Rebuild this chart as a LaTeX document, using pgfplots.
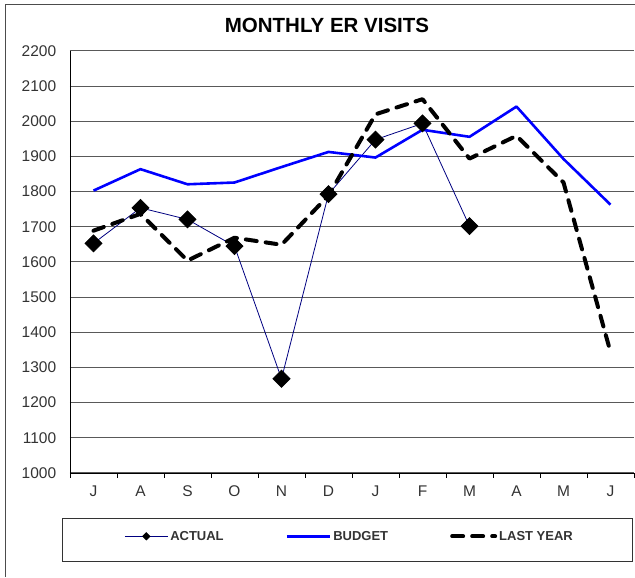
\documentclass[border=0pt]{standalone}
\usepackage{pgfplots}
\pgfplotsset{compat=1.18}
\usepackage{fontspec}
\setmainfont{Liberation Sans}
\definecolor{navy}{RGB}{0,0,128}
\definecolor{bblue}{RGB}{0,0,255}
\begin{document}
\begin{tikzpicture}[x=1pt,y=1pt]
\useasboundingbox (-70,-105) rectangle (565,473);
\begin{axis}[
  at={(0,0)}, anchor=south west,
  scale only axis, width=564pt, height=422pt,
  xmin=-0.5, xmax=11.5, ymin=1000, ymax=2200,
  axis x line=bottom, axis y line=left,
  axis line style={-, black, line width=0.8pt},
  xtick={0,...,11},
  xticklabels={J,A,S,O,N,D,J,F,M,A,M,J},
  minor xtick={-0.5,0.5,...,11.5},
  major x tick style={draw=none},
  minor x tick style={black, line width=0.8pt},
  minor tick length=5pt,
  tick align=outside,
  ytick={1000,1100,...,2200},
  ytick style={draw=none},
  ymajorgrids,
  major grid style={black!65, line width=1pt},
  tick label style={font=\fontsize{15.5}{16}\selectfont, text=black!80},
  xticklabel style={yshift=-5pt},
  yticklabel style={xshift=-6pt},
  /pgf/number format/assume math mode=true,
  /pgf/number format/1000 sep={},
  clip=false,
  legend columns=3,
  legend style={draw=none, fill=none, at={(axis cs:5.45,820)}, anchor=center,
    font=\fontsize{13}{14}\selectfont\bfseries,
    /tikz/every even column/.append style={column sep=60pt},
    text=black!80},
  legend image code/.code={\draw[#1] plot coordinates {(0pt,0pt) (43pt,0pt)};},
]
\addplot[navy, line width=0.8pt, mark=square*, mark size=6pt,
  mark options={fill=black, draw=black, rotate=45, solid},
  legend image code/.code={\draw[navy, line width=0.8pt] (0pt,0pt) -- (43pt,0pt);
    \fill[black] (21.5pt,0pt) +(0,3.6pt) -- +(3.6pt,0) -- +(0,-3.6pt) -- +(-3.6pt,0) -- cycle;}]
  coordinates {(0,1653) (1,1754) (2,1721) (3,1645) (4,1268) (5,1793) (6,1948) (7,1994) (8,1702)};
\addlegendentry{ACTUAL}
\addplot[bblue, line width=2.6pt, line join=round]
  coordinates {(0,1803) (1,1864) (2,1821) (3,1826) (4,1870) (5,1913) (6,1897) (7,1976) (8,1956) (9,2042) (10,1893) (11,1763)};
\addlegendentry{BUDGET}
\addplot[black, line width=4pt, dash pattern=on 11pt off 9pt, line cap=round, line join=round]
  coordinates {(0,1689) (1,1737) (2,1604) (3,1669) (4,1649) (5,1789) (6,2020) (7,2063) (8,1894) (9,1959) (10,1826) (11,1344)};
\addlegendentry{LAST YEAR}
\end{axis}
\node[font=\fontsize{20.5}{22}\selectfont\bfseries, text=black] at (257,448) {MONTHLY ER VISITS};
\draw[black!80, line width=0.9pt] (-8,-88) rectangle (562,-45);
\draw[black!70, line width=0.9pt] (-65,-104) -- (-65,469) -- (565,469);
\end{tikzpicture}
\end{document}
